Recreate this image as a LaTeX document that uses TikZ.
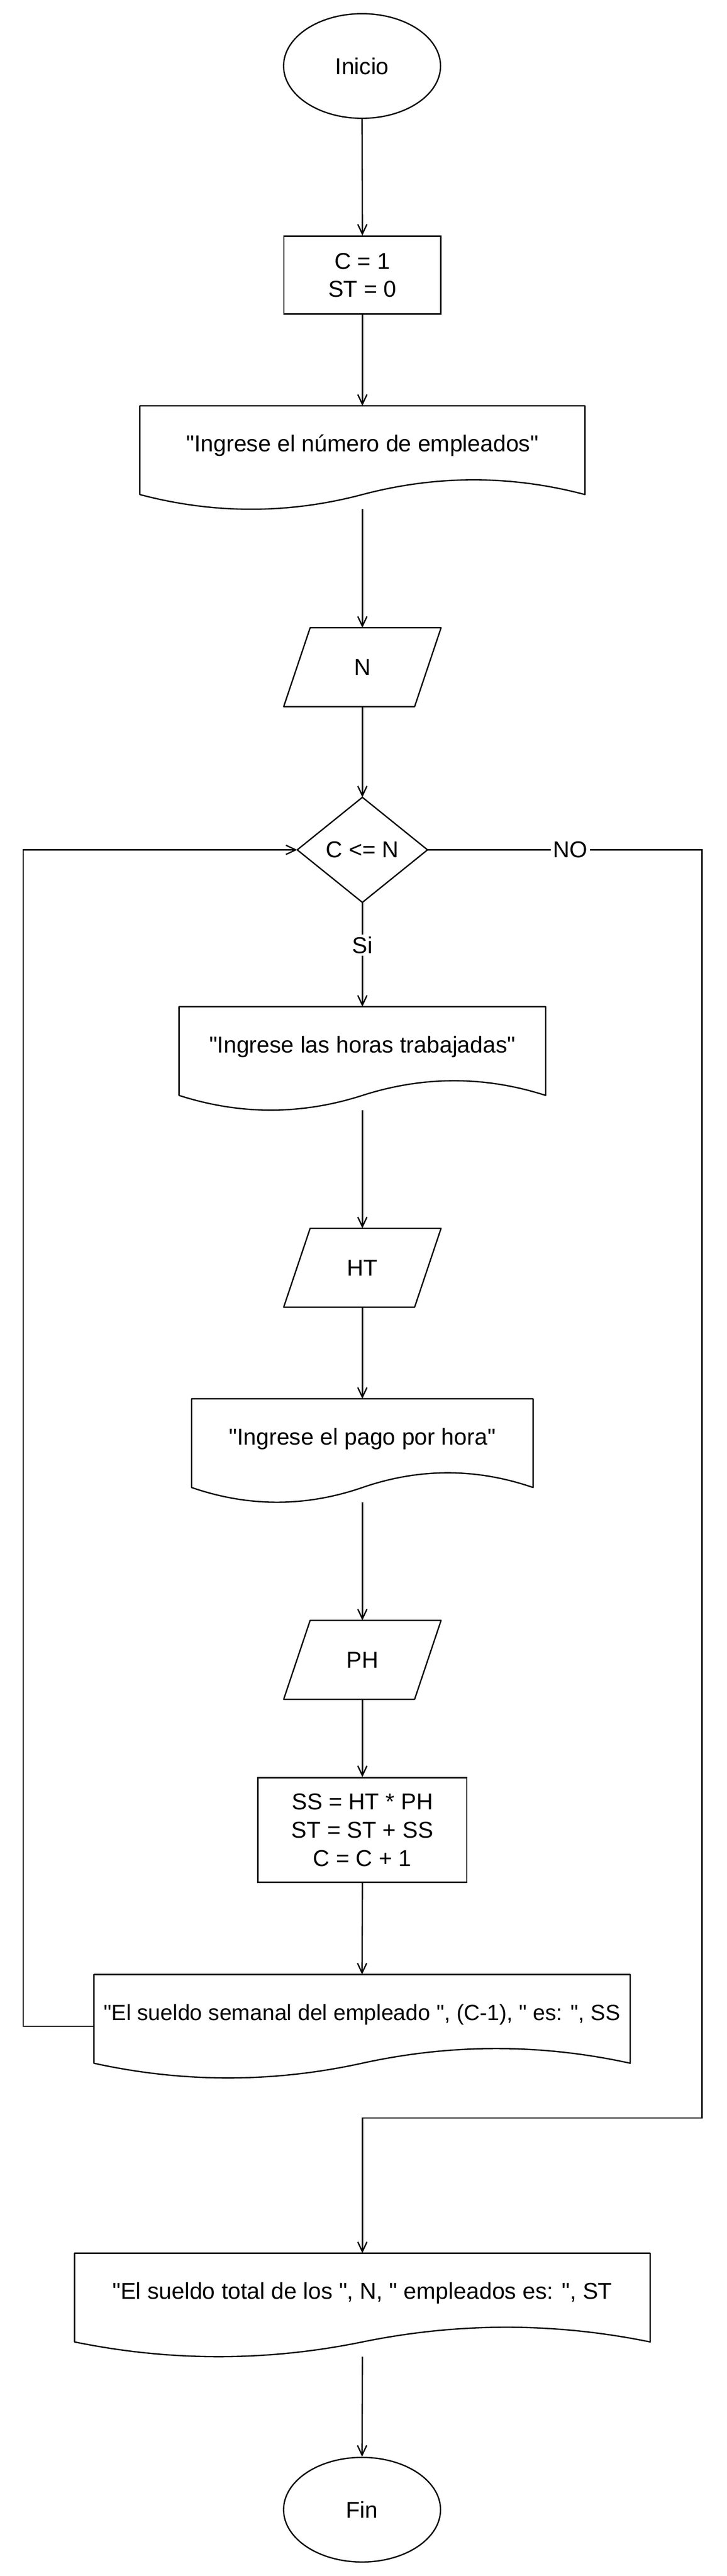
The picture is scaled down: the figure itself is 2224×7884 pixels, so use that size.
\documentclass[tikz,border=0pt]{standalone}
\usepackage{fontspec}
\setmainfont{Liberation Sans}[Ligatures=TeXOff]
\usetikzlibrary{arrows.meta,calc,shapes.geometric}
\newcommand\docpath[2]{% #1 node name, #2 width in px
  \draw[ln] (#1.north west) -- (#1.north east) -- ($(#1.south east)+(0,-45)$)
    .. controls +({-#2/6},-60) and +({#2/6},-60) .. ($(#1.south)+(0,-45)$)
    .. controls +({-#2/6},60) and +({#2/6},60) .. ($(#1.south west)+(0,-45)$) -- cycle;}
\newcommand\parapath[1]{%
  \draw[ln] (#1.south west) -- ($(#1.north west)+(81,0)$) -- (#1.north east)
    -- ($(#1.south east)+(-81,0)$) -- cycle;}
\newcommand\diapath[1]{%
  \draw[ln] (#1.north) -- (#1.east) -- (#1.south) -- (#1.west) -- cycle;}
\begin{document}
\begin{tikzpicture}[x=0.01cm,y=-0.01cm,
  every node/.style={font=\fontsize{20}{24.5}\selectfont, inner sep=0pt, align=center},
  ln/.style={line width=1.15pt, black, line join=round},
  arr/.style={line width=1.15pt, -{Straight Barb[length=8.5pt,width=8pt,line width=1.15pt]}},
  term/.style={ellipse, draw, line width=1.15pt, minimum width=4.8cm, minimum height=3.2cm},
  proc/.style={rectangle, draw, line width=1.15pt},
  blank/.style={rectangle, draw=none},
  docbox/.style={rectangle, draw=none, anchor=north, minimum width=#1,
    text height=1.4cm, text depth=1.75cm},
  parabox/.style={rectangle, draw=none, minimum width=4.8cm, minimum height=2.4cm},
  lbl/.style={fill=white, inner sep=2pt},
]
\useasboundingbox (0,0) rectangle (2224,7884);

\node[term] (ini) at (1108,202) {Inicio};
\node[proc, minimum width=4.8cm, minimum height=2.38cm] (c1) at (1109,842) {C = 1\\ST = 0};
\node[docbox=13.6cm] (d1) at (1109,1242) {"Ingrese el número de empleados"};
\docpath{d1}{1360}
\node[parabox] (n) at (1109,2042) {N};
\parapath{n}
\node[blank, minimum width=3.97cm, minimum height=3.2cm] (dia) at (1109,2601) {C <= N};
\diapath{dia}
\node[docbox=11.2cm] (d2) at (1109,3081) {"Ingrese las horas trabajadas"};
\docpath{d2}{1120}
\node[parabox] (ht) at (1109,3880) {HT};
\parapath{ht}
\node[docbox=10.43cm] (d3) at (1109,4281) {"Ingrese el pago por hora"};
\docpath{d3}{1043}
\node[parabox] (ph) at (1109,5080) {PH};
\parapath{ph}
\node[proc, minimum width=6.39cm, minimum height=3.2cm] (ss) at (1109,5601) {SS = HT * PH\\ST = ST + SS\\C = C + 1};
\node[docbox=16.39cm, font=\fontsize{19.2}{24}\selectfont] (d4) at (1108,6043) {"El sueldo semanal del empleado ", (C-1), " es: ", SS};
\docpath{d4}{1639}
\node[docbox=17.59cm] (d5) at (1109,6896) {"El sueldo total de los ", N, " empleados es: ", ST};
\docpath{d5}{1759}
\node[term] (fin) at (1108,7681) {Fin};

\draw[arr] (ini.south) -- (c1.north);
\draw[arr] (c1.south) -- (d1.north);
\draw[arr] (d1.south) -- (n.north);
\draw[arr] (n.south) -- (dia.north);
\draw[arr] (dia.south) -- node[lbl, pos=0.41] {Si} (d2.north);
\draw[arr] (d2.south) -- (ht.north);
\draw[arr] (ht.south) -- (d3.north);
\draw[arr] (d3.south) -- (ph.north);
\draw[arr] (ph.south) -- (ss.north);
\draw[arr] (ss.south) -- (d4.north);
\draw[arr] (d5.south) -- (fin.north);
\coordinate (lx) at (71,4000);
\draw[arr] (d4.west) -| (lx) |- (dia.west);
\coordinate (rx) at (2148,6482);
\draw[arr] (dia.east) -| node[lbl, pos=0.26] {NO} (rx) -| (d5.north);
\end{tikzpicture}
\end{document}
